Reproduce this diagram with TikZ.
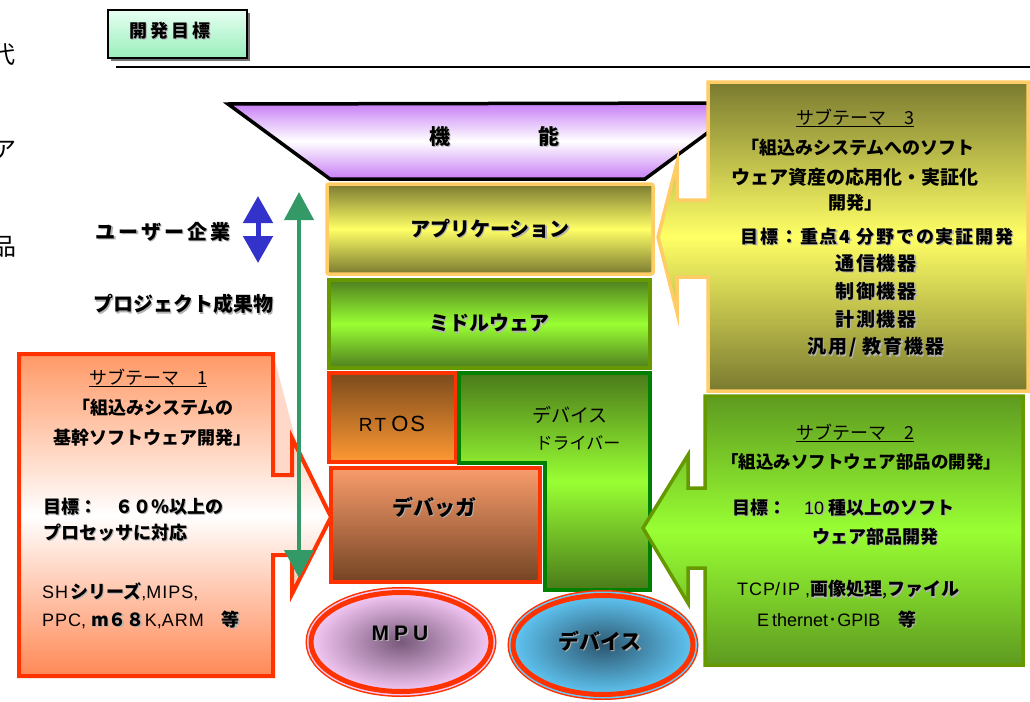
\documentclass[tikz,border=0pt]{standalone}
\usepackage{fontspec}
\setmainfont{Noto Sans CJK JP}
\newfontfamily\lat{Liberation Sans}
\usetikzlibrary{arrows.meta,shapes.geometric,shadows}
\definecolor{goalTop}{HTML}{E6FFF2}
\definecolor{goalBot}{HTML}{99EEBB}
\definecolor{funcPurple}{HTML}{C77DF5}
\definecolor{appBorder}{HTML}{FFCC66}
\definecolor{oliveD}{HTML}{7A7A30}
\definecolor{yelB}{HTML}{FFFF66}
\definecolor{mwBorder}{HTML}{669900}
\definecolor{mwDark}{HTML}{4F7F1F}
\definecolor{limeB}{HTML}{99FF33}
\definecolor{rtosTop}{HTML}{7B4A1C}
\definecolor{rtosBot}{HTML}{FF9933}
\definecolor{redB}{HTML}{FF3300}
\definecolor{ddBorder}{HTML}{008000}
\definecolor{ddDark}{HTML}{4A7A1A}
\definecolor{dbgTop}{HTML}{F99C6C}
\definecolor{dbgBot}{HTML}{744424}
\definecolor{mpuIn}{HTML}{77587A}
\definecolor{mpuOut}{HTML}{F5C8F5}
\definecolor{devIn}{HTML}{2D566E}
\definecolor{devOut}{HTML}{5FC5F2}
\definecolor{devGap}{HTML}{66CCFF}
\definecolor{sOneTop}{HTML}{FF9966}
\definecolor{sOneBot}{HTML}{FF8855}
\definecolor{sOneFaint}{HTML}{FFD8CA}
\definecolor{sTwoDark}{HTML}{5E9A20}
\definecolor{arrBlue}{HTML}{3333CC}
\definecolor{arrGreen}{HTML}{339966}
\newcommand\fsz[1]{\fontsize{#1}{#1}\selectfont}
\newcommand\shd[1]{\leavevmode\rlap{\kern1.3pt\raisebox{-1.3pt}{\textcolor{black!30}{#1}}}#1}
\tikzset{
  txt/.style={inner sep=0pt, font=\fsz{18}},
  btxt/.style={inner sep=0pt, font=\fsz{18}\bfseries},
  sptxt/.style={inner sep=0pt, font=\fsz{19}\bfseries\addfontfeatures{LetterSpace=10}},
  boxlabel/.style={inner sep=0pt, font=\fsz{20}\bfseries},
  layerbox/.style={line width=3.5pt, inner sep=0pt},
  ring/.style={ellipse, inner sep=0pt, minimum width=180pt, minimum height=99pt,
     draw=redB, line width=5pt, font=\fsz{21}\bfseries},
}
\begin{document}
\begin{tikzpicture}[x=1pt,y=-1pt]
\useasboundingbox (0,0) rectangle (1030,701);
\clip (0,0) rectangle (1030,701);
\fill[white] (0,0) rectangle (1030,701);

% clipped glyphs at left edge
\node (e1) [txt, font=\fsz{24}] at (3,55) {代};
\node (e2) [txt, font=\fsz{24}] at (5,150) {ア};
\node (e3) [txt, font=\fsz{24}] at (5,247) {品};

% title
\node (goal) [draw=black, line width=1.5pt, top color=goalTop, bottom color=goalBot,
  minimum width=139pt, minimum height=48pt, inner sep=0pt,
  drop shadow={shadow xshift=3pt, shadow yshift=-3pt, fill=black!55, opacity=1}] at (177.5,34) {};
\node (goaltxt) [btxt] at (170,31) {\shd{開\kern3pt 発\kern3pt 目\kern3pt 標}};
\coordinate (hlA) at (116,67);
\coordinate (hlB) at (1030,67);
\draw[line width=2pt] (hlA) -- (hlB);

% function trapezoid
\shade[top color=funcPurple, bottom color=funcPurple, middle color=white, draw=black,
  line width=3.5pt, line join=miter] (228,104) -- (748,103) -- (645,179) -- (330,179) -- cycle;
\node (func) [boxlabel, font=\fsz{21}\bfseries] at (494,137) {\shd{機}\hspace{88pt}\shd{能}};

% layers
\node (app) [layerbox, draw=appBorder, rounded corners=2pt, top color=oliveD, bottom color=oliveD, middle color=yelB,
  minimum width=326pt, minimum height=90pt, boxlabel] at (490,229) {\shd{アプリケーション}};
\node (mw) [layerbox, draw=mwBorder, top color=mwDark, bottom color=mwDark, middle color=limeB,
  minimum width=321pt, minimum height=88pt, boxlabel] at (489.5,324) {\shd{ミドルウェア}};
\node (rtos) [layerbox, draw=redB, top color=rtosTop, bottom color=rtosBot,
  minimum width=127pt, minimum height=89pt] at (392.5,417.5) {};
\node (rtostxt) [inner sep=0pt, font=\lat] at (392,424) {{\fsz{19}R\kern2pt T}\kern5pt{\fsz{22}O\kern2pt S}};
\shade[top color=ddDark, bottom color=ddDark, middle color=limeB, draw=ddBorder, line width=3.5pt]
  (459,373) -- (650,373) -- (650,590) -- (545,590) -- (545,463) -- (459,463) -- cycle;
\node (ddA) [inner sep=0pt, font=\fsz{19}] at (570,415) {デバイス};
\node (ddB) [inner sep=0pt, font=\fsz{17}] at (578,443) {ドライバー};
\node (dbg) [layerbox, draw=redB, top color=dbgTop, bottom color=dbgBot,
  minimum width=209pt, minimum height=114pt] at (435.5,525) {};
\node (dbgtxt) [boxlabel, font=\fsz{21}\bfseries] at (434,508) {\shd{デバッガ}};

% ellipses
\node (mpu) [ring, inner color=mpuIn, outer color=mpuOut,
  preaction={draw=redB, line width=11pt}, preaction={draw=mpuOut, line width=8pt}] at (401,642) {};
\node (mputxt) [inner sep=0pt, font=\lat\fsz{21}\bfseries] at (400,634) {\shd{M\kern5pt P\kern5pt U}};
\node (dev) [ring, inner color=devIn, outer color=devOut,
  preaction={draw=redB, line width=11pt}, preaction={draw=devGap, line width=8pt}] at (603,645) {};
\node (devtxt) [boxlabel, font=\fsz{21}\bfseries] at (600,642) {\shd{デバイス}};

% subtheme 3 callout
\shade[top color=oliveD, bottom color=oliveD, middle color=yelB, draw=appBorder, line width=3.5pt]
  (708,82) -- (1028,82) -- (1028,391) -- (708,391) -- (708,277) -- (677,277) -- (677,312)
  -- (658,237) -- (677,163) -- (677,200) -- (708,200) -- cycle;
% subtheme 2 callout
\shade[top color=sTwoDark, bottom color=sTwoDark, middle color=limeB, draw=mwBorder, line width=3.5pt]
  (705,396) -- (1023,396) -- (1023,665) -- (705,665) -- (705,568) -- (688,568) -- (688,603)
  -- (643,528) -- (688,455) -- (688,488) -- (705,488) -- cycle;
% subtheme 1 callout
\fill[sOneFaint] (273,353) -- (299,453) -- (292,438) -- (292,475) -- (273,475) -- cycle;
\shade[top color=sOneTop, bottom color=sOneBot, middle color=white, draw=redB, line width=4pt]
  (19,354) -- (273,354) -- (273,475) -- (292,475) -- (292,438) -- (331,517) -- (292,594)
  -- (292,555) -- (273,555) -- (273,676) -- (19,676) -- cycle;

% subtheme 1 texts
\node (s1a) [txt] at (148,378) {\underline{サブテーマ　1}};
\node (s1b) [btxt] at (153,408) {「組込みシステムの};
\node (s1c) [btxt] at (152,438) {基幹ソフトウェア開発」};
\node (s1d) [btxt, anchor=west] at (43,507) {\shd{目標：　６０％以上の}};
\node (s1e) [btxt, anchor=west] at (43,533) {\shd{プロセッサに対応}};
\node (s1f) [txt, anchor=west] at (42,592) {{\lat S\kern1pt H\kern2pt}\textbf{\shd{シリーズ}}{\lat ,M\kern1pt I\kern1pt P\kern1pt S,}};
\node (s1g) [txt, anchor=west] at (42,620) {{\lat P\kern1pt P\kern1pt C, }\textbf{\shd{m６８}}{\lat K,A\kern1pt R\kern1pt M}　\textbf{\shd{等}}};

% subtheme 3 texts
\node (s3a) [txt] at (855,118) {\underline{サブテーマ　3}};
\node (s3b) [btxt] at (858,148) {「組込みシステムへのソフト};
\node (s3c) [btxt, font=\fsz{19}\bfseries] at (855,177) {ウェア資産の応用化・実証化};
\node (s3d) [btxt] at (855,203) {開発」};
\node (s3e) [sptxt, font=\fsz{18}\bfseries\addfontfeatures{LetterSpace=10}] at (877,237) {\shd{目標：重点4 分野での実証開発}};
\node (s3f) [sptxt] at (876,264) {\shd{通信機器}};
\node (s3g) [sptxt] at (876,292) {\shd{制御機器}};
\node (s3h) [sptxt] at (876,320) {\shd{計測機器}};
\node (s3i) [sptxt] at (876,348) {\shd{汎用/ 教育機器}};

% subtheme 2 texts
\node (s2a) [txt] at (855,433) {\underline{サブテーマ　2}};
\node (s2b) [btxt, font=\fsz{17.5}\bfseries] at (861,462) {「組込みソフトウェア部品の開発」};
\node (s2c) [btxt, anchor=west] at (732,508) {\shd{目標：　{\lat\mdseries 10} 種以上のソフト}};
\node (s2d) [btxt, anchor=west] at (812,537) {\shd{ウェア部品開発}};
\node (s2e) [txt, anchor=west] at (737,590) {{\lat T\kern1pt C\kern1pt P/\kern2pt I\kern1pt P ,}\textbf{\shd{画像処理}},\textbf{\shd{ファイル}}};
\node (s2f) [txt, anchor=west] at (757,620) {{\lat E\kern3pt thernet}･{\lat GPIB}　\textbf{\shd{等}}};

% left labels
\node (user) [inner sep=0pt, font=\fsz{20}\bfseries\addfontfeatures{LetterSpace=15}] at (163,232) {\shd{ユーザー企業}};
\node (proj) [inner sep=0pt, font=\fsz{20}\bfseries] at (183,305) {\shd{プロジェクト成果物}};

% blue double arrow
\coordinate (bTop) at (258,196);
\coordinate (bBot) at (258,263);
\draw[arrBlue, line width=5pt, {Triangle[width=29pt,length=27pt]}-{Triangle[width=29pt,length=27pt]}] (bBot) -- (bTop);

% green double arrow
\coordinate (gTop) at (299,192);
\coordinate (gBot) at (299,578);
\draw[arrGreen, line width=4pt, {Triangle[width=29pt,length=28pt]}-{Triangle[width=29pt,length=28pt]}] (gBot) -- (gTop);
\end{tikzpicture}
\end{document}
